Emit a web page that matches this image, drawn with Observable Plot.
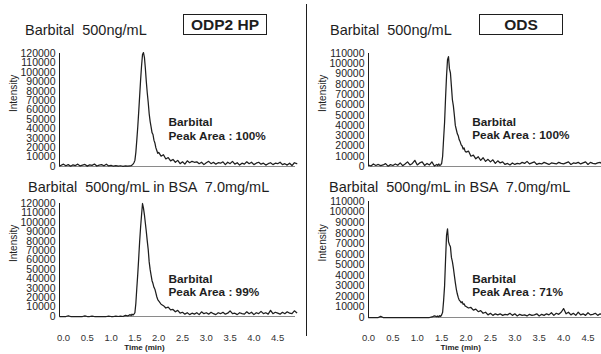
<!DOCTYPE html>
<html><head><meta charset="utf-8">
<script src="https://cdn.jsdelivr.net/npm/d3@7"></script>
<script src="https://cdn.jsdelivr.net/npm/@observablehq/plot@0.6"></script>
<style>
html,body{margin:0;padding:0;background:#fff;overflow:hidden}
#fig{position:relative;width:601px;height:354px;overflow:hidden;font-family:"Liberation Sans",Arial,Helvetica,sans-serif;color:#222;background:#fff}
.panel{position:absolute}
</style></head><body><div id="fig"></div>
<script>
// ---------- data ----------
const time = [-0.08, 0, 0.05, 0.1, 0.15, 0.2, 0.25, 0.3, 0.35, 0.4, 0.45, 0.5, 0.55, 0.6, 0.65, 0.7, 0.75, 0.8, 0.85, 0.9, 0.95, 1, 1.05, 1.1, 1.15, 1.2, 1.25, 1.3, 1.35, 1.4,
  1.42, 1.44, 1.46, 1.48, 1.5, 1.52, 1.54, 1.56, 1.58, 1.6, 1.62, 1.64, 1.66, 1.68, 1.7, 1.72, 1.74, 1.76, 1.78, 1.8, 1.82, 1.84, 1.86, 1.88, 1.9, 1.92, 1.94, 1.96, 1.98, 2,
  2.05, 2.1, 2.15, 2.2, 2.25, 2.3, 2.35, 2.4, 2.45, 2.5, 2.55, 2.6, 2.65, 2.7, 2.75, 2.8, 2.85, 2.9, 2.95, 3, 3.05, 3.1, 3.15, 3.2, 3.25, 3.3, 3.35, 3.4, 3.45, 3.5, 3.55, 3.6, 3.65, 3.7, 3.75, 3.8, 3.85, 3.9, 3.95, 4, 4.05, 4.1, 4.15, 4.2, 4.25, 4.3, 4.35, 4.4, 4.45, 4.5, 4.55, 4.6, 4.65, 4.7, 4.75, 4.8, 4.85, 4.9];

// ODP2 HP, Barbital 500 ng/mL
const odpStd = [500,2500,800,2000,300,1800,1000,2500,600,1500,2200,400,1800,1200,2600,500,1500,2000,800,2400,600,1200,300,900,400,800,200,600,300,700,
  800,1500,2500,4000,6500,15000,28000,42000,58000,75000,92000,107000,119000,121000,116000,104000,90000,78000,68000,56000,48000,42000,36000,34000,28000,25000,20000,17000,14000,15000,
  11000,12500,8000,9500,6000,7500,4500,6500,3000,5000,2500,6000,4000,5500,4500,5000,3000,4500,2000,4000,5500,3000,4500,2500,4000,3500,5000,2000,4500,3000,
  5500,2500,4000,1500,3500,2500,5000,3000,4500,2000,3500,4500,2500,3500,1500,3000,4000,2000,3500,3000,4500,2000,3000,1500,3500,1000,4000,3000];
// ODP2 HP, Barbital 500 ng/mL in BSA 7.0 mg/mL
const odpBsa = [0,0,0,800,0,0,0,0,0,0,600,0,0,500,0,0,0,0,0,0,300,0,0,300,0,500,0,1200,600,2000,
  1000,2500,1500,2500,4000,14000,30000,45000,62000,80000,95000,108000,120000,115000,108000,99000,90000,80000,71000,58000,50000,44000,38000,35000,31000,29000,25000,21000,18000,16500,
  13000,11500,9000,10000,7000,7500,5000,6500,3500,4500,2500,4000,2000,3500,2500,4000,2000,5000,3000,4000,2500,4500,3000,2000,4000,3000,4500,2500,3500,6000,
  3000,3500,2000,4000,3000,2500,5000,3000,4500,2000,4000,3000,5500,3000,4000,2500,6500,3000,4500,3500,2500,4500,3000,5000,3500,3000,6000,4000];
// ODS, Barbital 500 ng/mL
const odsStd = [1000,1500,500,2500,1000,2000,800,1500,2800,300,1800,1000,2500,1200,3500,800,2500,4500,1500,3000,6000,1500,3500,4500,1000,3000,1500,4500,500,2000,
  800,2500,1000,1500,3000,10000,27000,43000,67000,88000,104000,107000,95000,91000,78000,65000,59000,50000,40000,36000,32000,30000,26000,24000,21000,20000,17000,18000,15000,14000,
  15000,10000,11000,7500,9500,6000,8500,5000,7000,4500,6500,3000,5500,3500,4500,2000,3000,1500,3500,2000,3000,2500,4000,3000,5000,2500,3500,4500,2000,3000,
  2500,4000,3000,2000,3500,3000,2500,4000,3000,2500,3500,4500,2000,3500,3000,4000,2500,3500,4500,2000,4000,3000,2500,3500,4000,2000,3500,3000];
// ODS, Barbital 500 ng/mL in BSA 7.0 mg/mL
const odsBsa = [0,0,0,0,0,0,1000,0,0,0,0,0,0,0,0,0,0,0,0,0,0,0,0,0,0,0,0,500,1500,800,
  1500,600,1800,1000,2500,5000,16000,30000,55000,78000,84000,72000,69000,67000,57000,53000,47000,40000,33000,27000,22500,19000,16500,15500,14000,15000,12500,13000,11000,10500,
  9000,9500,7000,8000,5500,6500,4000,5000,2500,4000,2000,3500,2500,3500,2000,3000,2500,4000,2000,3500,1500,3000,2000,2500,1500,3000,2000,2500,3500,1500,
  3000,2000,3500,2500,4500,2000,4000,3000,5000,8500,3500,5000,2500,4000,2000,5000,2500,3500,2000,4500,2500,3000,4000,2000,3500,2500,4000,3000];

const yTicksODP = [0,10000,20000,30000,40000,50000,60000,70000,80000,90000,100000,110000,120000];
const yTicksODS = [0,10000,20000,30000,40000,50000,60000,70000,80000,90000,100000,110000];
const xTicks = [0,0.5,1,1.5,2,2.5,3,3.5,4,4.5];
const titles = ["Barbital  500ng/mL", "Barbital  500ng/mL in BSA  7.0mg/mL", "Barbital  500ng/mL", "Barbital  500ng/mL in BSA  7.0mg/mL"];
const columns = ["ODP2 HP", "ODS"];
const peakAreas = ["100%", "99%", "100%", "71%"];
const annotationPos = [[2.206, 28400], [2.206, 21600], [2.126, 26300], [2.126, 20200]];

// ---------- layout ----------
const FONT = "'Liberation Sans', Arial, Helvetica, sans-serif";
const INK = "#1e1e1e";
const panels = [
  {vals: odpStd, left: 0, top: 40, width: 300, height: 130, mt: 13, mb: 4, ml: 59, mr: 5, xdom: [-0.084, 4.874], ydom: [0, 120000], yt: yTicksODP, bottom: false},
  {vals: odpBsa, left: 0, top: 190, width: 300, height: 164, mt: 13, mb: 38, ml: 59, mr: 5, xdom: [-0.084, 4.874], ydom: [0, 120000], yt: yTicksODP, bottom: true, pad: 18, tlx: 1.7, tldy: 33},
  {vals: odsStd, left: 300, top: 40, width: 307, height: 130, mt: 13, mb: 4, ml: 68, mr: 0, xdom: [0, 4.9], ydom: [0, 110000], yt: yTicksODS, bottom: false},
  {vals: odsBsa, left: 300, top: 190, width: 307, height: 164, mt: 11, mb: 37, ml: 68, mr: 0, xdom: [0, 4.9], ydom: [0, 110000], yt: yTicksODS, bottom: true, pad: 17, tlx: 1.89, tldy: 32}
];

const fig = document.getElementById("fig");
panels.forEach((p, i) => {
  const data = time.map((t, k) => ({t, v: p.vals[k]})).filter(d => d.t >= p.xdom[0] - 1e-9);
  const marks = [
    Plot.ruleY([0], {stroke: "#8a8a8a", strokeWidth: 1}),
    Plot.ruleX([p.xdom[0]], {stroke: INK, strokeWidth: 1}),
    Plot.axisY({ticks: p.yt, tickSize: 0, tickPadding: 4, tickFormat: d3.format("d"), label: null, fontSize: 10.5, fill: INK}),
    Plot.text(["Intensity"], {frameAnchor: "left", rotate: -90, dx: -46, dy: 2, fontSize: 10, fill: INK}),
    Plot.line(data, {x: "t", y: "v", stroke: INK, strokeWidth: 1.25, strokeLinejoin: "round"}),
    Plot.text([{x: annotationPos[i][0], y: annotationPos[i][1], label: "Barbital\nPeak Area : " + peakAreas[i]}],
      {x: "x", y: "y", text: "label", textAnchor: "start", lineAnchor: "bottom", lineHeight: 1.13, fontSize: 11.8, fontWeight: "bold", fill: INK})
  ];
  if (p.bottom) {
    marks.push(Plot.axisX({ticks: xTicks, tickSize: 0, tickPadding: p.pad, tickFormat: d3.format(".1f"), label: null, fontSize: 9.5, fill: "#333"}));
    marks.push(Plot.text(["Time (min)"], {x: p.tlx, frameAnchor: "bottom", dy: p.tldy, fontSize: 8, fontWeight: "bold", fill: INK}));
  }
  const chart = Plot.plot({
    width: p.width, height: p.height,
    marginTop: p.mt, marginBottom: p.mb, marginLeft: p.ml, marginRight: p.mr,
    x: {domain: p.xdom, axis: null},
    y: {domain: p.ydom, axis: null},
    style: {fontFamily: FONT, background: "transparent", maxWidth: "none", overflow: "visible", color: INK},
    marks
  });
  const wrap = document.createElement("div");
  wrap.className = "panel";
  wrap.style.left = p.left + "px";
  wrap.style.top = p.top + "px";
  wrap.appendChild(chart);
  fig.appendChild(wrap);
});

// ---------- overlay: titles, column boxes, separator ----------
const svg = d3.select("#fig").append("svg")
  .attr("width", 601).attr("height", 354)
  .style("position", "absolute").style("left", "0px").style("top", "0px")
  .style("font-family", FONT);
const titlePos = [[25, 35], [28, 192], [330, 35], [329, 192]];
titles.forEach((t, i) => {
  svg.append("text").attr("x", titlePos[i][0]).attr("y", titlePos[i][1])
    .attr("xml:space", "preserve").style("white-space", "pre")
    .attr("font-size", 14.5).attr("fill", INK).text(t);
});
const boxes = [[183.5, 14.5, 83, 20], [479.5, 14.5, 83, 20]];
columns.forEach((c, i) => {
  const [bx, by, bw, bh] = boxes[i];
  svg.append("rect").attr("x", bx).attr("y", by).attr("width", bw).attr("height", bh)
    .attr("fill", "none").attr("stroke", INK).attr("stroke-width", 1);
  svg.append("text").attr("x", bx + bw / 2).attr("y", by + 15.5).attr("text-anchor", "middle")
    .attr("font-size", 15.5).attr("font-weight", "bold").attr("fill", INK).text(c);
});
svg.append("line").attr("x1", 306.5).attr("x2", 306.5).attr("y1", 4).attr("y2", 336)
  .attr("stroke", INK).attr("stroke-width", 1);
</script>
</body></html>
